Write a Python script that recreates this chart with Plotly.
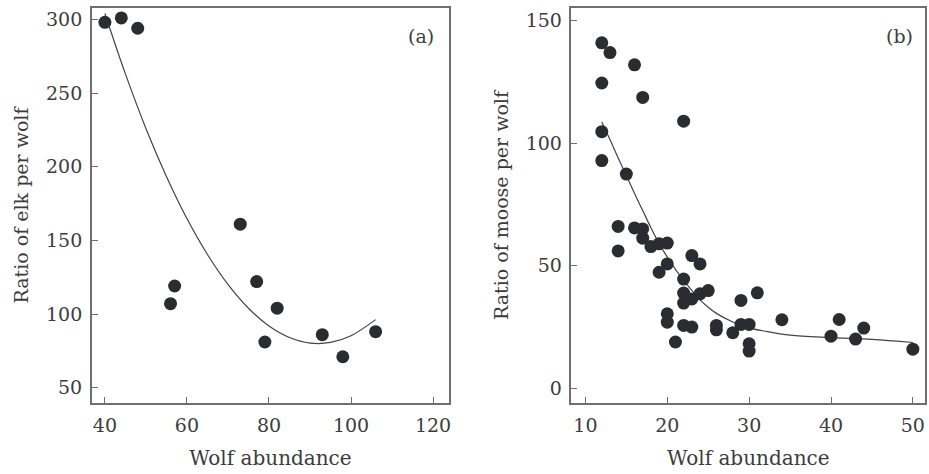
import plotly.graph_objects as go

# Panel (a): elk per wolf vs wolf abundance
elk_wolves = [40, 44, 48, 56, 57, 73, 77, 82, 79, 93, 98, 106]
elk_ratio = [298, 301, 294, 107, 119, 161, 122, 104, 81, 86, 71, 88]
elk_fit_x = [40, 45, 50, 55, 60, 65, 70, 75, 80, 85, 90, 95, 100, 106]
elk_fit_y = [304, 263, 226, 193.4, 164.8, 140.4, 120.1, 103.9, 91.9, 84.1, 80.3, 80.7, 85.3, 96.2]

# Panel (b): moose per wolf vs wolf abundance
moose_wolves = [12, 13, 16, 12, 17, 22, 12, 12, 15, 14, 14, 16, 17, 17, 18, 19, 20,
                19, 20, 22, 23, 24, 22, 22, 23, 24, 25, 20, 20, 22, 23, 21, 26, 26,
                28, 29, 29, 30, 30, 30, 31, 34, 40, 41, 43, 44, 50]
moose_ratio = [141, 137, 132, 124.6, 118.7, 109, 104.7, 92.9, 87.4, 66, 56, 65.4, 65, 61.2, 57.8, 58.9, 59.2,
               47.3, 50.7, 44.5, 54.1, 50.7, 38.8, 34.7, 36.4, 38.5, 39.8, 30.3, 26.9, 25.6, 24.9, 18.8, 25.6, 23.8,
               22.6, 35.8, 26, 26, 18.1, 15.1, 38.9, 27.9, 21.2, 28, 20, 24.5, 15.9]
moose_fit_x = [12, 13, 14, 15, 16, 17, 18, 19, 20, 21, 22, 23, 24, 25, 26, 28, 30, 32, 35, 40, 45, 50]
moose_fit_y = [108.7, 101.5, 94, 86.8, 79.5, 72.5, 65.5, 59, 53.5, 48.5, 44, 39.9, 36, 33, 30.5, 27, 24.6, 23.2,
               21.6, 20.6, 19.9, 18.6]

x_ticks_a = [40, 60, 80, 100, 120]
y_ticks_a = [50, 100, 150, 200, 250, 300]
x_ticks_b = [10, 20, 30, 40, 50]
y_ticks_b = [0, 50, 100, 150]

FONT = "DejaVu Serif"
TXT = "#3c3c3c"
FRAME = "#6f6f6f"
DOT = "#2a2c32"
TICK_SIZE = 19
XTITLE_SIZE = 20
YTITLE_SIZE = 19

fig = go.Figure()
fig.add_trace(go.Scatter(x=elk_fit_x, y=elk_fit_y, mode="lines", line=dict(color="#444", width=1.2, shape="spline"),
                         xaxis="x", yaxis="y", showlegend=False, hoverinfo="skip"))
fig.add_trace(go.Scatter(x=elk_wolves, y=elk_ratio, mode="markers", marker=dict(color=DOT, size=13),
                         xaxis="x", yaxis="y", showlegend=False))
fig.add_trace(go.Scatter(x=moose_fit_x, y=moose_fit_y, mode="lines", line=dict(color="#444", width=1.2, shape="spline"),
                         xaxis="x2", yaxis="y2", showlegend=False, hoverinfo="skip"))
fig.add_trace(go.Scatter(x=moose_wolves, y=moose_ratio, mode="markers", marker=dict(color=DOT, size=13),
                         xaxis="x2", yaxis="y2", showlegend=False))

axis_common = dict(showline=True, mirror=True, linecolor=FRAME, linewidth=1.5, ticks="inside", ticklen=6,
                   tickwidth=1.2, tickcolor=FRAME, showgrid=False, zeroline=False,
                   tickfont=dict(family=FONT, size=TICK_SIZE, color=TXT))
xtitle_font = dict(family=FONT, size=XTITLE_SIZE, color=TXT)
ytitle_font = dict(family=FONT, size=YTITLE_SIZE, color=TXT)

fig.update_layout(
    width=929, height=474, margin=dict(l=0, r=0, t=0, b=0),
    paper_bgcolor="white", plot_bgcolor="white",
    xaxis=dict(domain=[0.099, 0.4844], range=[36.8, 123.9], tickvals=x_ticks_a, anchor="y",
               title=dict(text="Wolf abundance", font=xtitle_font, standoff=16),
               ticklabelstandoff=4, **axis_common),
    yaxis=dict(domain=[0.1498, 0.983], range=[39.6, 307.7], tickvals=y_ticks_a, anchor="x",
               title=dict(text="Ratio of elk per wolf", font=ytitle_font, standoff=12),
               ticklabelstandoff=4, **axis_common),
    xaxis2=dict(domain=[0.6165, 0.998], range=[8.3, 51.5], tickvals=x_ticks_b, anchor="y2",
                title=dict(text="Wolf abundance", font=xtitle_font, standoff=16),
                ticklabelstandoff=4, **axis_common),
    yaxis2=dict(domain=[0.1498, 0.983], range=[-6.1, 155.2], tickvals=y_ticks_b, anchor="x2",
                title=dict(text="Ratio of moose per wolf", font=ytitle_font, standoff=12),
                ticklabelstandoff=4, **axis_common),
    annotations=[
        dict(text="(a)", xref="paper", yref="paper", x=421.7 / 929, y=1 - 36 / 474, showarrow=False,
             font=dict(family=FONT, size=TICK_SIZE, color=TXT), xanchor="center", yanchor="middle"),
        dict(text="(b)", xref="paper", yref="paper", x=901.7 / 929, y=1 - 36 / 474, showarrow=False,
             font=dict(family=FONT, size=TICK_SIZE, color=TXT), xanchor="center", yanchor="middle"),
    ],
)

fig.write_html("out.html")
